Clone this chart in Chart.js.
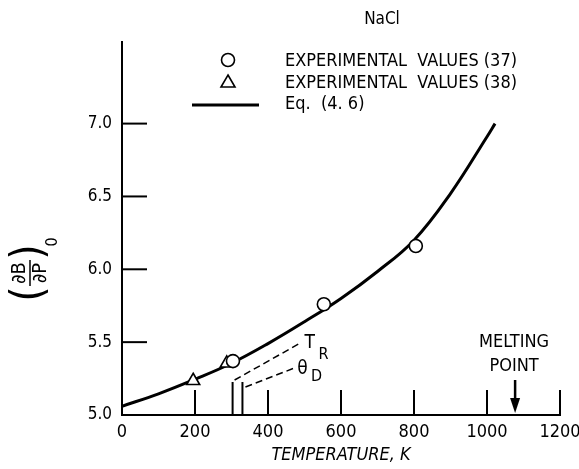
<!DOCTYPE html>
<html>
<head>
<meta charset="utf-8">
<script src="https://cdn.jsdelivr.net/npm/chart.js@4/dist/chart.umd.min.js"></script>
<style>
  body { margin: 0; background: #fff; }
</style>
</head>
<body>
<canvas id="naclChart" width="579" height="469"></canvas>
<script>
// ---------------- Datos ----------------
const eqTemps = [0, 100, 200, 300, 400, 500, 600, 700, 800, 900, 1000, 1022];
const eqValues = [5.06, 5.145, 5.245, 5.355, 5.49, 5.64, 5.8, 5.985, 6.2, 6.52, 6.91, 7.0];

const exp37Temps = [304, 553, 805];
const exp37Values = [5.37, 5.76, 6.16];

const exp38Temps = [195, 287];
const exp38Values = [5.235, 5.355];

const xTicks = [0, 200, 400, 600, 800, 1000, 1200];
const yTicks = [5.0, 5.5, 6.0, 6.5, 7.0];

const tempR = 303;       // T_R
const thetaD = 330;      // θ_D
const meltingPoint = 1077;

const FONT = "'Liberation Sans Narrow', 'DejaVu Sans Condensed', 'Liberation Sans', sans-serif";

const toPoints = (xs, ys) => xs.map((x, i) => ({ x, y: ys[i] }));

// ---------------- Plugin: ticks, leyenda, anotaciones ----------------
const decorations = {
    id: 'decorations',
    beforeDatasetsDraw(chart) {
        const { ctx, scales: { x, y } } = chart;
        const x0 = x.getPixelForValue(0);
        const y0 = y.getPixelForValue(5.0);

        ctx.save();
        ctx.strokeStyle = '#000';
        ctx.lineWidth = 2;

        // inner ticks
        yTicks.forEach(v => {
            const py = y.getPixelForValue(v);
            ctx.beginPath();
            ctx.moveTo(x0, py);
            ctx.lineTo(x0 + 25, py);
            ctx.stroke();
        });
        xTicks.forEach(v => {
            const px = x.getPixelForValue(v);
            ctx.beginPath();
            ctx.moveTo(px, y0);
            ctx.lineTo(px, y0 - 25);
            ctx.stroke();
        });

        // T_R and θ_D marks
        [tempR, thetaD].forEach(v => {
            const px = x.getPixelForValue(v);
            ctx.beginPath();
            ctx.moveTo(px, y0);
            ctx.lineTo(px, y0 - 33);
            ctx.stroke();
        });

        // dashed leaders
        ctx.lineWidth = 1.5;
        ctx.setLineDash([7, 4]);
        const pR = x.getPixelForValue(tempR);
        const pD = x.getPixelForValue(thetaD);
        ctx.beginPath();
        ctx.moveTo(pR + 2, y0 - 35);
        ctx.lineTo(pR + 66, y0 - 71);
        ctx.stroke();
        ctx.beginPath();
        ctx.moveTo(pD + 3, y0 - 28);
        ctx.lineTo(pD + 52, y0 - 47);
        ctx.stroke();
        ctx.setLineDash([]);

        ctx.fillStyle = '#000';
        ctx.textAlign = 'center';
        ctx.textBaseline = 'middle';
        ctx.font = `19px ${FONT}`;
        ctx.fillText('T', pR + 77, y0 - 72);
        ctx.fillText('θ', pD + 60, y0 - 46);
        ctx.font = `16px ${FONT}`;
        ctx.fillText('R', pR + 91, y0 - 60);
        ctx.fillText('D', pD + 74, y0 - 38);

        // melting point arrow
        const pm = x.getPixelForValue(meltingPoint);
        ctx.lineWidth = 2.5;
        ctx.beginPath();
        ctx.moveTo(pm, y0 - 35);
        ctx.lineTo(pm, y0 - 12);
        ctx.stroke();
        ctx.beginPath();
        ctx.moveTo(pm - 5, y0 - 17);
        ctx.lineTo(pm + 5, y0 - 17);
        ctx.lineTo(pm, y0 - 2);
        ctx.closePath();
        ctx.fill();

        ctx.font = `18px ${FONT}`;
        ctx.fillText('MELTING', pm - 1, y0 - 73, 70);
        ctx.fillText('POINT', pm - 1, y0 - 49, 56);

        ctx.restore();
    },
    afterDraw(chart) {
        const { ctx } = chart;
        ctx.save();
        ctx.fillStyle = '#000';
        ctx.strokeStyle = '#000';

        // title
        ctx.font = `17px ${FONT}`;
        ctx.textAlign = 'center';
        ctx.textBaseline = 'middle';
        ctx.fillText('NaCl', 382, 20);

        // legend
        ctx.lineWidth = 1.6;
        ctx.beginPath();
        ctx.arc(228, 60, 6.5, 0, Math.PI * 2);
        ctx.stroke();
        ctx.beginPath();
        ctx.moveTo(228, 75);
        ctx.lineTo(235, 87);
        ctx.lineTo(221, 87);
        ctx.closePath();
        ctx.stroke();
        ctx.lineWidth = 3;
        ctx.beginPath();
        ctx.moveTo(192, 105);
        ctx.lineTo(259, 105);
        ctx.stroke();

        ctx.textAlign = 'left';
        ctx.font = `18px ${FONT}`;
        ctx.fillText('EXPERIMENTAL  VALUES (37)', 285, 61, 232);
        ctx.fillText('EXPERIMENTAL  VALUES (38)', 285, 83, 232);
        ctx.fillText('Eq.  (4. 6)', 285, 104);

        // y axis label (∂B/∂P)_0
        ctx.translate(30, 273);
        ctx.rotate(-Math.PI / 2);
        ctx.textAlign = 'center';
        ctx.font = `20px 'DejaVu Sans Condensed', 'DejaVu Sans', sans-serif`;
        ctx.fillText('∂B', 0, -10);
        ctx.fillText('∂P', 0, 11);
        ctx.lineWidth = 1.5;
        ctx.beginPath();
        ctx.moveTo(-13, 0);
        ctx.lineTo(13, 0);
        ctx.stroke();
        ctx.font = `44px ${FONT}`;
        ctx.fillText('(', -21, 1);
        ctx.fillText(')', 21, 1);
        ctx.font = `16px ${FONT}`;
        ctx.fillText('0', 31, 23);

        ctx.restore();
    }
};

// ---------------- Gráfica ----------------
new Chart(document.getElementById('naclChart'), {
    type: 'line',
    data: {
        datasets: [
            {
                label: 'Eq. (4.6)',
                data: toPoints(eqTemps, eqValues),
                borderColor: '#000',
                borderWidth: 3,
                pointRadius: 0,
                tension: 0.4,
                fill: false,
                order: 2
            },
            {
                label: 'EXPERIMENTAL VALUES (37)',
                data: toPoints(exp37Temps, exp37Values),
                showLine: false,
                pointStyle: 'circle',
                pointRadius: 6.5,
                pointBorderWidth: 1.6,
                pointBorderColor: '#000',
                pointBackgroundColor: '#fff',
                order: 1
            },
            {
                label: 'EXPERIMENTAL VALUES (38)',
                data: toPoints(exp38Temps, exp38Values),
                showLine: false,
                pointStyle: 'triangle',
                pointRadius: 7.5,
                pointBorderWidth: 1.6,
                pointBorderColor: '#000',
                pointBackgroundColor: '#fff',
                order: 1
            }
        ]
    },
    options: {
        responsive: false,
        animation: false,
        devicePixelRatio: 1,
        layout: { padding: { top: 42, right: 19, left: 0, bottom: 0 } },
        plugins: {
            legend: { display: false },
            tooltip: { enabled: false }
        },
        scales: {
            x: {
                type: 'linear',
                min: 0,
                max: 1200,
                afterBuildTicks: scale => { scale.ticks = xTicks.map(v => ({ value: v })); },
                afterFit: scale => {
                    scale.height = 54;
                    scale.paddingLeft = 0;
                    scale.paddingRight = 0;
                },
                grid: { display: false, drawTicks: false },
                border: { display: true, color: '#000', width: 2 },
                ticks: {
                    color: '#000',
                    padding: 7,
                    maxRotation: 0,
                    font: { family: FONT, size: 18 },
                    callback: v => String(v)
                },
                title: {
                    display: true,
                    text: 'TEMPERATURE, K',
                    color: '#000',
                    padding: { top: 0, bottom: 3 },
                    font: { family: FONT, size: 18, style: 'italic' }
                }
            },
            y: {
                type: 'linear',
                min: 5.0,
                max: 7.56,
                afterBuildTicks: scale => { scale.ticks = yTicks.map(v => ({ value: v })); },
                afterFit: scale => {
                    scale.width = 122;
                    scale.paddingTop = 0;
                    scale.paddingBottom = 0;
                },
                grid: { display: false, drawTicks: false },
                border: { display: true, color: '#000', width: 2 },
                ticks: {
                    color: '#000',
                    padding: 10,
                    font: { family: FONT, size: 17 },
                    callback: v => v.toFixed(1)
                }
            }
        }
    },
    plugins: [decorations]
});
</script>
</body>
</html>
